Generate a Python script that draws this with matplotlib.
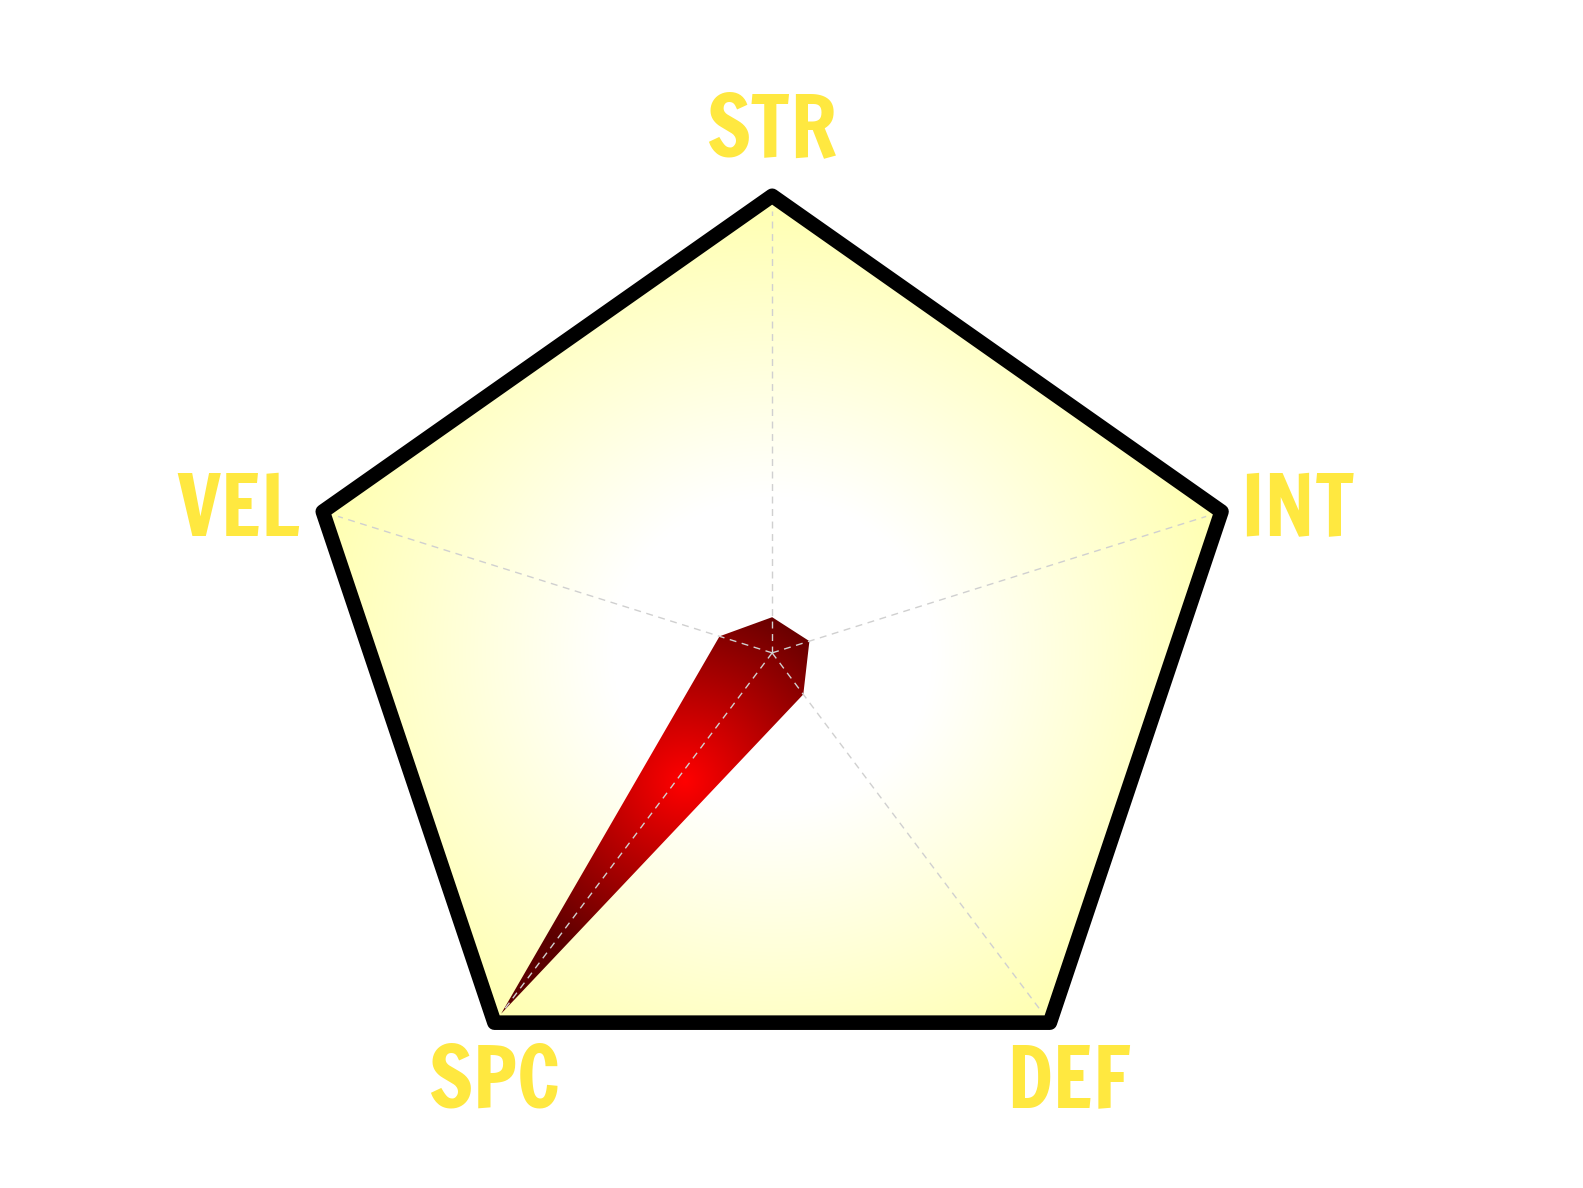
import matplotlib
matplotlib.use("Agg")
import matplotlib.pyplot as plt
import numpy as np
from matplotlib.patches import Polygon

# stat categories and values (scale 0-100)
labels = ["STR", "INT", "DEF", "SPC", "VEL"]
values = [8, 8.5, 11.5, 100, 12]
max_value = 100

angles = np.deg2rad(90 - 72 * np.arange(len(labels)))

fig = plt.figure(figsize=(15.83, 11.88), dpi=100)
ax = fig.add_axes([0, 0, 1, 1])
ax.set_xlim(-1.675, 1.759)
ax.set_ylim(-1.2, 1.464)
ax.axis("off")

outer = np.column_stack([np.cos(angles), np.sin(angles)])

# yellow radial background
xx, yy = np.meshgrid(np.linspace(-1.1, 1.1, 600), np.linspace(-1.1, 1.1, 600))
rr = np.hypot(xx, yy)
t = np.clip((rr - 0.35) / 0.65, 0, 1)[..., None]
bg = (1 - t) * np.array([1.0, 1.0, 1.0]) + t * np.array([1.0, 1.0, 0.70])
im = ax.imshow(bg, extent=(-1.1, 1.1, -1.1, 1.1), origin="lower", zorder=1, aspect="auto")
clip_outer = Polygon(outer * 1.02, closed=True, transform=ax.transData, facecolor="none", edgecolor="none")
ax.add_patch(clip_outer)
im.set_clip_path(clip_outer)

# data polygon with red radial gradient
r = np.array(values) / max_value
pts = np.column_stack([r * np.cos(angles), r * np.sin(angles)])
cx, cy = -0.19, -0.29
d = np.hypot(xx - cx, yy - cy)
s = np.clip(d / 0.45, 0, 1)[..., None]
red = (1 - s) * np.array([1.0, 0.0, 0.0]) + s * np.array([0.36, 0.0, 0.0])
im2 = ax.imshow(red, extent=(-1.1, 1.1, -1.1, 1.1), origin="lower", zorder=2, aspect="auto")
clip_data = Polygon(pts, closed=True, transform=ax.transData, facecolor="none", edgecolor="none")
ax.add_patch(clip_data)
im2.set_clip_path(clip_data)

# spokes
for a in angles:
    ax.plot([0, 0.99 * np.cos(a)], [0, 0.99 * np.sin(a)], color="#d0d0d0",
            lw=1, ls=(0, (5, 4)), zorder=3)

# border
border = Polygon(outer * 1.025, closed=True, facecolor="none", edgecolor="black",
                 lw=10.5, joinstyle="round", zorder=4)
ax.add_patch(border)

# labels (x, baseline y, alignment)
lab_pos = {
    "STR": (0.0, 1.113, "center"),
    "INT": (1.016, 0.262, "left"),
    "DEF": (0.643, -1.02, "center"),
    "SPC": (-0.602, -1.02, "center"),
    "VEL": (-1.024, 0.262, "right"),
}
for lab in labels:
    x, y, ha = lab_pos[lab]
    ax.text(x, y, lab, ha=ha, va="baseline", fontsize=60,
            family=["Francois One", "Anton", "DejaVu Sans"], color="#ffe840", zorder=5)

fig.savefig("out.png", dpi=100)
